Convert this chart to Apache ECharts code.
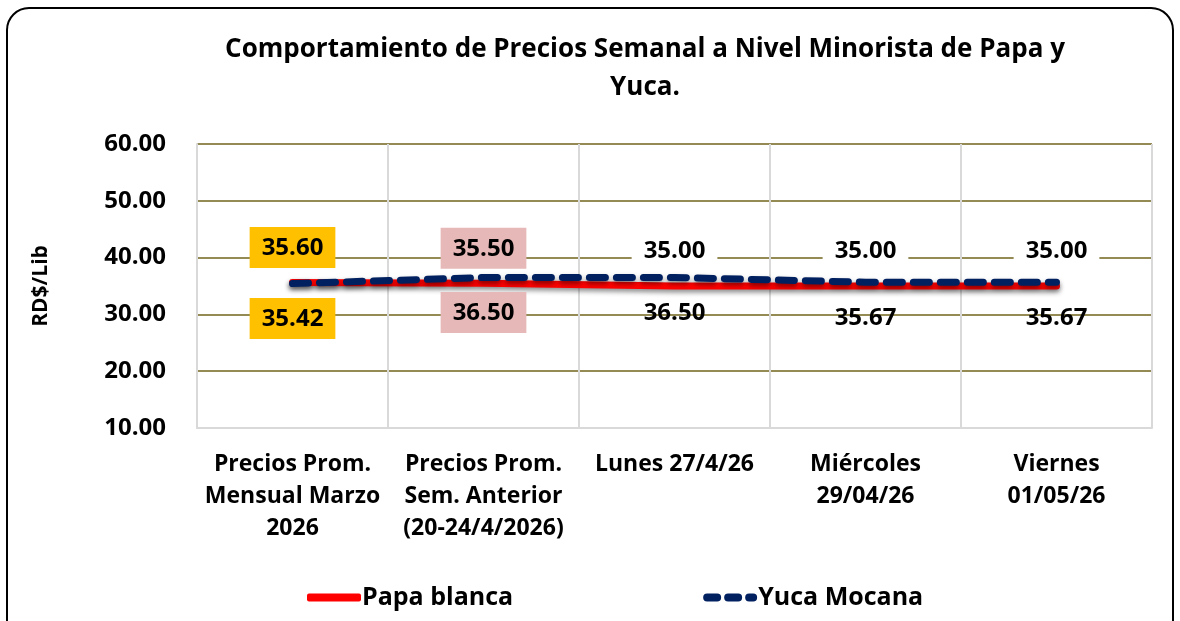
<!DOCTYPE html>
<html>
<head>
<meta charset="utf-8">
<script src="https://cdn.jsdelivr.net/npm/echarts@6/dist/echarts.min.js"></script>
<style>
  html, body { margin: 0; padding: 0; background: #fff; }
  #chart { width: 1180px; height: 621px; }
</style>
</head>
<body>
<div id="chart"></div>
<script>
// categorias del eje x
const categorias = [
  'Precios Prom.\nMensual Marzo\n2026',
  'Precios Prom.\nSem. Anterior\n(20-24/4/2026)',
  'Lunes 27/4/26',
  'Miércoles\n29/04/26',
  'Viernes\n01/05/26'
];
// precios por serie
const papaBlanca = [35.60, 35.50, 35.00, 35.00, 35.00];
const yucaMocana = [35.42, 36.50, 36.50, 35.67, 35.67];
// fondo de las etiquetas por punto
const fondoEtiqueta = ['#FFC000', '#E6B9B8', '#fff', '#fff', '#fff'];
const fondoEtiquetaYuca = ['#FFC000', '#E6B9B8', 'transparent', 'transparent', 'transparent'];

const fuente = '"Open Sans", "DejaVu Sans", sans-serif';

function armarDatos(valores, fondos) {
  return valores.map((v, i) => ({
    value: v,
    label: {
      backgroundColor: fondos[i]
    }
  }));
}

// icono de leyenda: tres trazos
const iconoYuca = 'path://M4,0H14A4,4 0 0 1 14,8H4A4,4 0 0 1 4,0Z M25,0H35A4,4 0 0 1 35,8H25A4,4 0 0 1 25,0Z M46,0H50A4,4 0 0 1 50,8H46A4,4 0 0 1 46,0Z';

const chart = echarts.init(document.getElementById('chart'));

const option = {
  backgroundColor: '#ffffff',
  textStyle: { fontFamily: fuente },
  graphic: [{
    type: 'rect',
    shape: { x: 7, y: 8, width: 1166, height: 640, r: 22 },
    style: { fill: 'none', stroke: '#000', lineWidth: 2 },
    z: -1
  }],
  title: {
    text: 'Comportamiento de Precios Semanal a Nivel Minorista de Papa y\nYuca.',
    left: 640,
    textAlign: 'center',
    top: 26,
    textStyle: { fontSize: 26, fontWeight: 'bold', color: '#000', lineHeight: 38, fontFamily: fuente }
  },
  legend: {
    bottom: 6,
    left: 302,
    itemGap: 190,
    itemWidth: 54,
    itemHeight: 8,
    textStyle: { fontSize: 25, fontWeight: 'bold', color: '#000', fontFamily: fuente, padding: [0, 0, 0, -4] },
    data: [
      { name: 'Papa blanca', icon: 'roundRect', itemStyle: { color: '#FF0000', opacity: 1 } },
      { name: 'Yuca Mocana', icon: iconoYuca, itemStyle: { color: '#002060', opacity: 1 } }
    ]
  },
  grid: { left: 197, right: 28, top: 144, bottom: 193 },
  xAxis: {
    type: 'category',
    data: categorias,
    boundaryGap: true,
    axisLine: { lineStyle: { color: '#D9D9D9', width: 2 } },
    axisTick: { show: false },
    splitLine: { show: true, lineStyle: { color: '#D9D9D9', width: 2 } },
    axisLabel: {
      interval: 0,
      margin: 20,
      fontSize: 23,
      fontWeight: 'bold',
      color: '#000',
      lineHeight: 32,
      fontFamily: fuente
    }
  },
  yAxis: {
    type: 'value',
    min: 10,
    max: 60,
    interval: 10,
    name: 'RD$/Lib',
    nameLocation: 'middle',
    nameRotate: 90,
    nameGap: 145,
    nameTextStyle: { fontSize: 21, fontWeight: 'bold', color: '#000', fontFamily: fuente },
    axisLine: { show: true, lineStyle: { color: '#D9D9D9', width: 2 } },
    axisTick: { show: false },
    splitLine: { lineStyle: { color: '#948A54', width: 2 } },
    axisLabel: {
      margin: 31,
      fontSize: 24,
      fontWeight: 'bold',
      color: '#000',
      fontFamily: fuente,
      formatter: v => v.toFixed(2)
    }
  },
  series: [
    {
      name: 'Papa blanca',
      type: 'line',
      data: armarDatos(papaBlanca, fondoEtiqueta),
      symbol: 'circle',
      symbolSize: 1,
      showSymbol: true,
      itemStyle: { color: 'rgba(0,0,0,0)' },
      lineStyle: {
        width: 7,
        color: '#FF0000',
        cap: 'round',
        shadowColor: 'rgba(0,0,0,0.45)',
        shadowBlur: 5,
        shadowOffsetY: 3
      },
      label: {
        show: true,
        position: 'top',
        distance: 14,
        padding: [9, 12, 8, 12],
        fontSize: 24,
        fontWeight: 'bold',
        color: '#000',
        fontFamily: fuente,
        formatter: p => p.value.toFixed(2)
      },
      z: 2
    },
    {
      name: 'Yuca Mocana',
      type: 'line',
      data: armarDatos(yucaMocana, fondoEtiquetaYuca),
      symbol: 'circle',
      symbolSize: 1,
      showSymbol: true,
      itemStyle: { color: 'rgba(0,0,0,0)' },
      lineStyle: {
        width: 7,
        color: '#002060',
        type: [16, 11],
        cap: 'round',
        shadowColor: 'rgba(0,0,0,0.45)',
        shadowBlur: 5,
        shadowOffsetY: 3
      },
      label: {
        show: true,
        position: 'bottom',
        distance: 14,
        padding: [9, 12, 8, 12],
        fontSize: 24,
        fontWeight: 'bold',
        color: '#000',
        fontFamily: fuente,
        formatter: p => p.value.toFixed(2)
      },
      z: 3
    }
  ]
};

chart.setOption(option);
</script>
</body>
</html>
